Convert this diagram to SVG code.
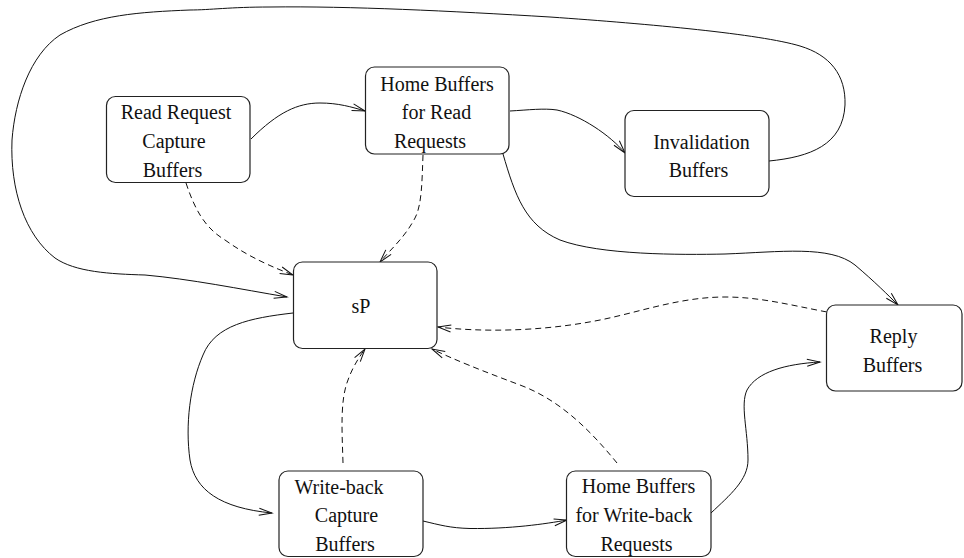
<svg xmlns="http://www.w3.org/2000/svg" width="964" height="558" viewBox="0 0 964 558">
  <style>
    .box { fill: #fff; stroke: #222; stroke-width: 1.2; }
    .lbl { font-family: "Liberation Serif", "Times New Roman", serif; font-size: 20px; fill: #111; text-anchor: middle; }
    .edge { fill: none; stroke: #111; stroke-width: 1; }
    .dash { stroke-dasharray: 6 4; }
  </style>
  <defs>
    <marker id="arr" viewBox="-15 -6 17 12" refX="0" refY="0" markerWidth="17" markerHeight="12" markerUnits="userSpaceOnUse" orient="auto">
      <path d="M-13,-3.5 L0,0 L-13,3.5" fill="none" stroke="#111" stroke-width="1" stroke-dasharray="none"/>
    </marker>
  </defs>

  <!-- connectors -->
  <g id="connectors">
    <!-- Read Request Capture -> Home Buffers for Read -->
    <path class="edge" marker-end="url(#arr)" d="M251,139 C278,112 298,103 320,103 C338,103 352,107 365,111"/>
    <!-- Home Buffers for Read -> Invalidation -->
    <path class="edge" marker-end="url(#arr)" d="M510,111 C528,110 544,108 557,110 C580,115 610,135 625,153"/>
    <!-- Invalidation -> sP (outer loop) -->
    <path class="edge" marker-end="url(#arr)" d="M769,161 C810,157 843,145 845,105 C846,75 830,55 800,46 C760,34 650,24 550,17 C450,11 350,6 270,7 C230,7 210,10 190,10 C140,12 95,15 60,35 C30,55 15,100 12,140 C10,190 25,235 55,258 C75,272 110,274 145,275 C190,279 240,289 287,297"/>
    <!-- Home Buffers for Read -> Reply -->
    <path class="edge" marker-end="url(#arr)" d="M503,154 C515,195 525,225 560,240 C600,255 680,255 725,254 C780,252 830,245 855,265 C875,282 888,295 898,305"/>
    <!-- sP -> Write-back Capture -->
    <path class="edge" marker-end="url(#arr)" d="M293,313 C250,318 215,325 203,355 C190,385 185,425 190,460 C195,490 220,508 272,513"/>
    <!-- Write-back Capture -> Home Buffers for Write-back -->
    <path class="edge" marker-end="url(#arr)" d="M423,521 C440,525 450,528 470,528.5 C510,529 545,524 567,520"/>
    <!-- Home Buffers for Write-back -> Reply -->
    <path class="edge" marker-end="url(#arr)" d="M711,513 C730,495 748,480 748,460 C748,430 740,405 747,390 C757,372 785,364 820,362"/>

    <!-- dashed feedback into sP -->
    <path class="edge dash" marker-end="url(#arr)" d="M186,183 C195,210 205,228 225,240 C250,258 275,268 293,275"/>
    <path class="edge dash" marker-end="url(#arr)" d="M423,155 C422,180 422,205 415,218 C405,237 392,248 380,262"/>
    <path class="edge dash" marker-end="url(#arr)" d="M343,463 C342,430 340,400 348,380 C353,366 360,356 365,349"/>
    <path class="edge dash" marker-end="url(#arr)" d="M827,312 C790,305 760,297 725,297 C680,297 640,312 600,320 C540,332 480,332 438,327"/>
    <path class="edge dash" marker-end="url(#arr)" d="M617,463 C590,430 560,400 520,385 C480,370 455,360 432,349"/>
  </g>

  <g id="read-request-capture">
    <rect class="box" x="106.5" y="96.5" width="143.5" height="86" rx="9"/>
    <text class="lbl" x="176" y="119">Read Request</text>
    <text class="lbl" x="174" y="147.5">Capture</text>
    <text class="lbl" x="172.5" y="176.5">Buffers</text>
  </g>

  <g id="home-read">
    <rect class="box" x="365.5" y="67" width="143.5" height="87" rx="9"/>
    <text class="lbl" x="437" y="90.5">Home Buffers</text>
    <text class="lbl" x="436.5" y="119">for Read</text>
    <text class="lbl" x="430" y="147.5">Requests</text>
  </g>

  <g id="invalidation">
    <rect class="box" x="625" y="110.5" width="144" height="86" rx="9"/>
    <text class="lbl" x="701.5" y="148.5">Invalidation</text>
    <text class="lbl" x="698.5" y="176.5">Buffers</text>
  </g>

  <g id="sp">
    <rect class="box" x="293.5" y="262" width="143.5" height="86.5" rx="9"/>
    <text class="lbl" x="361" y="312.5">sP</text>
  </g>

  <g id="reply">
    <rect class="box" x="826.5" y="305" width="135.5" height="86" rx="9"/>
    <text class="lbl" x="893.5" y="343">Reply</text>
    <text class="lbl" x="892.5" y="371.5">Buffers</text>
  </g>

  <g id="writeback-capture">
    <rect class="box" x="279" y="471" width="144" height="85.5" rx="9"/>
    <text class="lbl" x="339" y="493.5">Write-back</text>
    <text class="lbl" x="346.5" y="521.5">Capture</text>
    <text class="lbl" x="345" y="550.5">Buffers</text>
  </g>

  <g id="home-writeback">
    <rect class="box" x="566.5" y="471" width="144.5" height="85.5" rx="9"/>
    <text class="lbl" x="638.5" y="492.5">Home Buffers</text>
    <text class="lbl" x="634" y="521.5">for Write-back</text>
    <text class="lbl" x="636.5" y="550.5">Requests</text>
  </g>
</svg>
